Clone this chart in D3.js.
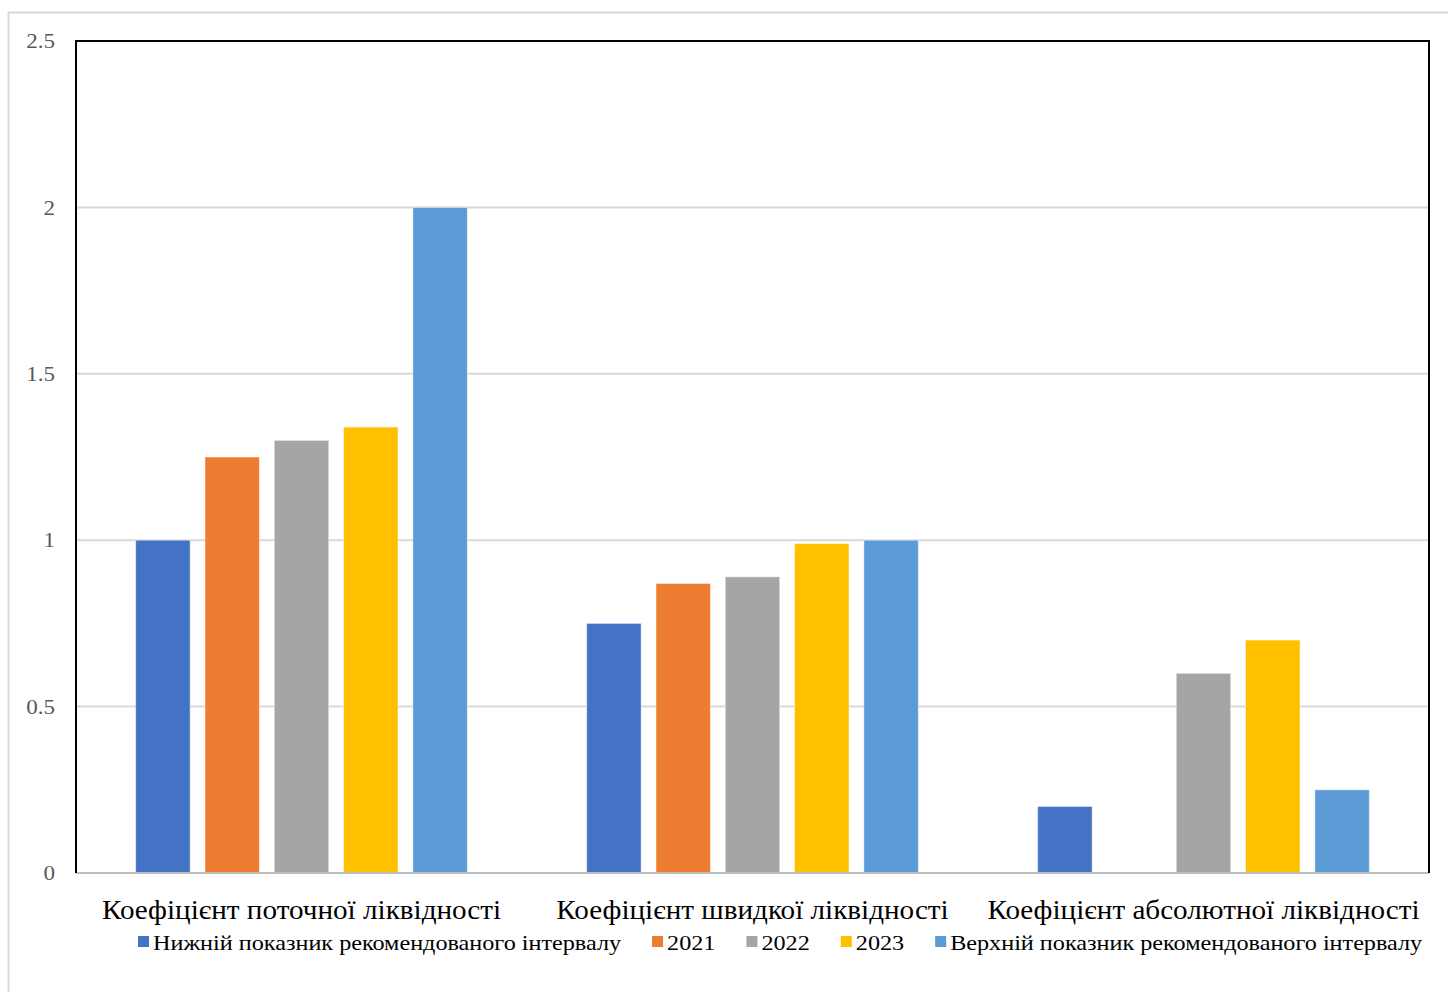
<!DOCTYPE html>
<html>
<head>
<meta charset="utf-8">
<script src="https://cdn.jsdelivr.net/npm/d3@7"></script>
<style>
  html, body { margin: 0; padding: 0; background: #fff; }
  svg { display: block; }
</style>
</head>
<body>
<svg id="chart" width="1448" height="992"></svg>
<script>
// Liquidity ratios by category, with the recommended interval bounds
const categories = [
  "Коефіцієнт поточної ліквідності",
  "Коефіцієнт швидкої ліквідності",
  "Коефіцієнт абсолютної ліквідності"
];
const seriesNames = [
  "Нижній показник рекомендованого інтервалу",
  "2021",
  "2022",
  "2023",
  "Верхній показник рекомендованого інтервалу"
];
const lowerBound = [1, 0.75, 0.2];
const values2021 = [1.25, 0.87, null];
const values2022 = [1.30, 0.89, 0.6];
const values2023 = [1.34, 0.99, 0.7];
const upperBound = [2, 1, 0.25];
const yTicks = [0, 0.5, 1, 1.5, 2, 2.5];
const yTickLabels = ["0", "0.5", "1", "1.5", "2", "2.5"];
const colors = ["#4472C4", "#ED7D31", "#A5A5A5", "#FFC000", "#5B9BD5"];

const seriesValues = [lowerBound, values2021, values2022, values2023, upperBound];

const FONT = "'Liberation Serif', 'Times New Roman', serif";
const SX = 1.1; // slightly widened lettering

const svg = d3.select("#chart");
const plot = { left: 76, right: 1429, top: 41, bottom: 873 };

// Outer chart frame
svg.append("rect")
  .attr("x", 8.5).attr("y", 12.5)
  .attr("width", 1460).attr("height", 1000)
  .attr("fill", "#fff").attr("stroke", "#d9d9d9").attr("stroke-width", 2);

const y = d3.scaleLinear().domain([0, 2.5]).range([plot.bottom, plot.top]);
const x0 = d3.scaleBand().domain(categories).range([plot.left, plot.right]).padding(0);
const x1 = d3.scaleBand().domain(seriesNames).range([0, x0.bandwidth()])
  .paddingInner(0.2136).paddingOuter(0.861);

// Horizontal gridlines
svg.append("g").selectAll("line")
  .data(yTicks.filter(t => t > 0 && t < 2.5))
  .join("line")
  .attr("x1", plot.left).attr("x2", plot.right)
  .attr("y1", d => y(d)).attr("y2", d => y(d))
  .attr("stroke", "#d9d9d9").attr("stroke-width", 2);

// Y axis tick labels
const yAxis = d3.axisLeft(y).tickValues(yTicks)
  .tickFormat((d, i) => yTickLabels[i]).tickSize(0).tickPadding(0);
const yg = svg.append("g").attr("transform", `translate(${plot.left},0)`).call(yAxis);
yg.select(".domain").remove();
yg.selectAll("text")
  .attr("x", -21 / SX)
  .attr("transform", `scale(${SX},1)`)
  .attr("font-family", FONT)
  .attr("font-size", 21).attr("fill", "#595959");

// Bars
const groups = svg.append("g").selectAll("g")
  .data(categories)
  .join("g")
  .attr("transform", d => `translate(${x0(d)},0)`);

groups.selectAll("rect")
  .data((c, ci) => seriesNames.map((s, si) => ({ s, si, v: seriesValues[si][ci] })).filter(d => d.v != null))
  .join("rect")
  .attr("x", d => x1(d.s))
  .attr("width", x1.bandwidth())
  .attr("y", d => y(d.v))
  .attr("height", d => y(0) - y(d.v))
  .attr("fill", d => colors[d.si])
  .attr("stroke", "#fff").attr("stroke-opacity", 0.5).attr("stroke-width", 1);

// Category axis line
svg.append("line")
  .attr("x1", plot.left).attr("x2", plot.right)
  .attr("y1", y(0)).attr("y2", y(0))
  .attr("stroke", "#bfbfbf").attr("stroke-width", 2);

// Plot area border (top, left, right)
svg.append("path")
  .attr("d", `M${plot.left},${plot.bottom}V${plot.top}H${plot.right}V${plot.bottom}`)
  .attr("fill", "none").attr("stroke", "#000").attr("stroke-width", 2);

// Category labels
svg.append("g").selectAll("text")
  .data(categories)
  .join("text")
  .attr("transform", d => `translate(${x0(d) + x0.bandwidth() / 2},919) scale(${SX},1)`)
  .attr("text-anchor", "middle")
  .attr("font-family", FONT)
  .attr("font-size", 26.5).attr("fill", "#000")
  .text(d => d);

// Legend
const legend = svg.append("g");
const items = legend.selectAll("g").data(seriesNames).join("g");
items.append("rect")
  .attr("width", 11).attr("height", 11)
  .attr("y", -14)
  .attr("fill", (d, i) => colors[i]);
items.append("text")
  .attr("transform", `translate(15,0) scale(${SX},1)`)
  .attr("font-family", FONT)
  .attr("font-size", 22).attr("fill", "#000")
  .text(d => d);
let cursor = 0;
const positions = [];
items.each(function () {
  const w = 15 + SX * d3.select(this).select("text").node().getComputedTextLength();
  positions.push(cursor);
  cursor += w + 31;
});
const startX = 138;
items.attr("transform", (d, i) => `translate(${startX + positions[i]},950)`);
</script>
</body>
</html>
